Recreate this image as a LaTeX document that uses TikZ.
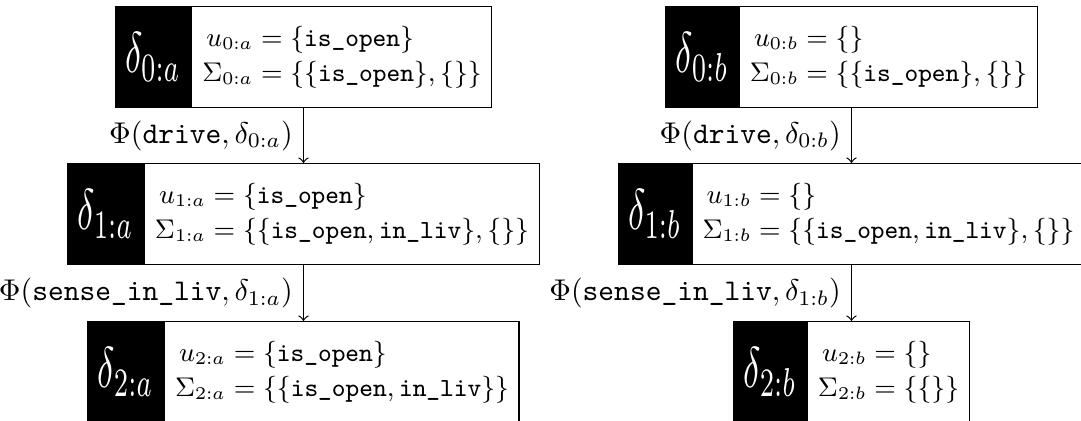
\documentclass[tikz,border=0pt]{standalone}
\usetikzlibrary{shapes.multipart}
% black head cell with a narrow, tall delta, vertically centred
\newcommand\statehead[1]{$\vcenter{\hbox{\rule{0pt}{33.7pt}}}\vcenter{\hbox{\normalsize\color{white}\scalebox{1.2}[1.92]{$\delta_{#1}$}}}$}
% two lines, aligned on the equals sign
\newcommand\statebody[3]{\raisebox{1.2pt}{$\begin{array}{@{}r@{}l@{}}u_{#1} & {}= #2\\ \Sigma_{#1} & {}= #3\end{array}$}}
\newcommand\fl[1]{\texttt{#1}}
\begin{document}
\begin{tikzpicture}[x=0.3333pt,y=-0.3333pt,
  state/.style={rectangle split, rectangle split horizontal, rectangle split parts=2,
    rectangle split part fill={black,white}, draw=black, line width=0.4pt,
    inner xsep=3.33pt, inner ysep=0pt, anchor=north,
    font=\fontsize{8.7}{11.6}\selectfont},
  trans/.style={->, line width=0.4pt},
  translabel/.style={left, font=\normalsize}]
\useasboundingbox (0,0) rectangle (1081,421);
\clip (0,0) rectangle (1081,421);

% left branch
\node[state] (a0) at (303.5,6) {\statehead{0:a}\nodepart{two}\statebody{0:a}{\{\fl{is\_open}\}}{\{\{\fl{is\_open}\},\{\}\}}};
\node[state] (a1) at (303.5,163) {\statehead{1:a}\nodepart{two}\statebody{1:a}{\{\fl{is\_open}\}}{\{\{\fl{is\_open},\fl{in\_liv}\},\{\}\}}};
\node[state] (a2) at (303.5,321) {\statehead{2:a}\nodepart{two}\statebody{2:a}{\{\fl{is\_open}\}}{\{\{\fl{is\_open},\fl{in\_liv}\}\}}};

% right branch
\node[state] (b0) at (851.5,6) {\statehead{0:b}\nodepart{two}\statebody{0:b}{\{\}}{\{\{\fl{is\_open}\},\{\}\}}};
\node[state] (b1) at (851.5,163) {\statehead{1:b}\nodepart{two}\statebody{1:b}{\{\}}{\{\{\fl{is\_open},\fl{in\_liv}\},\{\}\}}};
\node[state] (b2) at (851.5,321) {\statehead{2:b}\nodepart{two}\statebody{2:b}{\{\}}{\{\{\}\}}};

% transitions
\draw[trans] (a0.south) -- node[translabel] {$\Phi(\fl{drive},\delta_{0:a})$} (a1.north);
\draw[trans] (a1.south) -- node[translabel] {$\Phi(\fl{sense\_in\_liv},\delta_{1:a})$} (a2.north);
\draw[trans] (b0.south) -- node[translabel] {$\Phi(\fl{drive},\delta_{0:b})$} (b1.north);
\draw[trans] (b1.south) -- node[translabel] {$\Phi(\fl{sense\_in\_liv},\delta_{1:b})$} (b2.north);
\end{tikzpicture}
\end{document}
